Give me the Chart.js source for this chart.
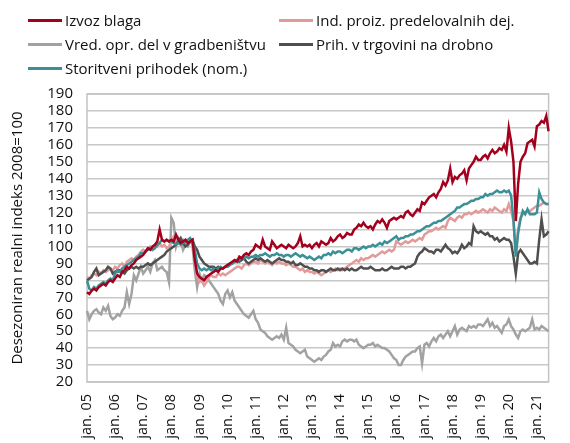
<!DOCTYPE html>
<html>
<head>
<meta charset="utf-8">
<script src="https://cdn.jsdelivr.net/npm/chart.js@4"></script>
<style>
  body { margin: 0; background: #fff; }
  #wrap { position: relative; width: 570px; height: 443px; }
  #legend {
    position: absolute; left: 28px; top: 8px;
    display: grid; grid-template-columns: 251px auto; grid-auto-rows: 24px;
    font-family: "Open Sans", sans-serif; font-size: 15px; color: #111;
  }
  .item { display: flex; align-items: center; }
  .swatch { width: 34px; height: 3px; margin-right: 3px; }
</style>
</head>
<body>
<div id="wrap">
  <canvas id="myChart" width="570" height="443"></canvas>
  <div id="legend"></div>
</div>
<script>
// x axis: monthly, jan 2005 - jun 2021
const startYear = 2005
const monthNames = ['jan.', 'feb.', 'mar.', 'apr.', 'maj', 'jun.', 'jul.', 'avg.', 'sep.', 'okt.', 'nov.', 'dec.']

// Izvoz blaga
const izvozBlaga = [
  73, 72, 74, 75, 74, 76, 77, 78, 77, 79, 80, 79,
  81, 83, 82, 85, 86, 88, 87, 89, 90, 92, 93, 94,
  95, 97, 99, 98, 100, 101, 103, 110, 104, 103, 104, 103,
  104, 103, 107, 104, 102, 103, 104, 102, 103, 104, 92, 84,
  82, 81, 80, 82, 83, 84, 85, 86, 85, 87, 87, 88,
  89, 90, 91, 92, 91, 94, 93, 95, 96, 95, 97, 98,
  101, 100, 99, 104, 100, 99, 98, 103, 101, 99, 100, 101,
  100, 99, 101, 100, 99, 100, 102, 106, 100, 101, 100, 101,
  99, 101, 102, 100, 103, 102, 101, 102, 105, 103, 104, 106,
  107, 105, 106, 108, 107, 107, 110, 111, 113, 112, 114, 112,
  111, 112, 110, 113, 115, 114, 116, 114, 111, 115, 116, 117,
  116, 117, 118, 117, 120, 121, 119, 118, 120, 122, 121, 126,
  125, 127, 129, 130, 131, 129, 132, 134, 138, 136, 139, 146,
  138, 141, 140, 142, 143, 145, 139, 146, 148, 150, 153, 151,
  151, 153, 154, 152, 155, 157, 155, 156, 158, 157, 160, 156,
  170, 162, 150, 115, 137, 150, 153, 155, 161, 162, 163, 159,
  171, 172, 174, 173, 177, 168
]

// Ind. proiz. predelovalnih dej.
const indProizvodnja = [
  82, 81, 83, 84, 83, 85, 84, 86, 85, 86, 87, 86,
  88, 87, 89, 90, 88, 91, 92, 93, 92, 94, 95, 97,
  98, 97, 99, 100, 99, 101, 100, 102, 100, 101, 99, 100,
  103, 106, 105, 104, 103, 104, 102, 101, 103, 104, 92, 82,
  79, 80, 77, 79, 82, 83, 82, 82, 84, 83, 84, 83,
  84, 85, 86, 87, 88, 88, 87, 89, 90, 89, 90, 91,
  91, 90, 92, 91, 90, 91, 90, 89, 91, 90, 91, 90,
  90, 89, 90, 89, 88, 88, 87, 86, 87, 85, 86, 85,
  85, 84, 85, 84, 83, 84, 85, 86, 85, 86, 87, 86,
  87, 86, 87, 88, 89, 90, 91, 92, 91, 93, 92, 93,
  93, 94, 95, 94, 95, 96, 97, 96, 97, 98, 97, 98,
  103, 102, 101, 102, 103, 102, 103, 104, 103, 104, 105, 104,
  107, 108, 109, 109, 110, 111, 110, 111, 112, 111, 115, 117,
  116, 115, 117, 118, 117, 119, 119, 120, 119, 120, 121, 120,
  121, 122, 121, 120, 122, 121, 123, 122, 121, 120, 122, 121,
  125, 121, 115, 96, 110, 117, 119, 120, 121, 121, 122, 123,
  124, 124, 125, 126, 125, 125
]

// Vred. opr. del v gradbenistvu
const gradbenistvo = [
  62, 57, 60, 62, 63, 61, 60, 64, 62, 65, 59, 57,
  58, 60, 59, 62, 64, 73, 66, 72, 83, 80, 84, 88,
  84, 86, 88, 85, 90, 92, 86, 87, 88, 86, 85, 79,
  117, 114, 100, 105, 103, 98, 101, 100, 104, 101, 86, 76,
  84, 80, 83, 82, 80, 78, 76, 74, 72, 68, 66, 72,
  74, 70, 73, 68, 66, 64, 62, 60, 59, 58, 60, 62,
  57, 55, 51, 50, 49, 47, 46, 45, 46, 47, 46, 48,
  45, 52, 43, 42, 41, 39, 38, 37, 38, 39, 35, 34,
  33, 32, 33, 34, 33, 35, 36, 38, 39, 43, 41, 42,
  41, 44, 45, 44, 45, 45, 44, 45, 42, 41, 40, 41,
  42, 42, 43, 41, 42, 41, 40, 40, 39, 38, 36, 34,
  33, 30, 30, 33, 35, 36, 37, 38, 38, 40, 41, 31,
  42, 43, 41, 44, 46, 44, 47, 48, 46, 48, 50, 47,
  50, 53, 48, 51, 52, 51, 50, 53, 52, 53, 52, 54,
  54, 53, 55, 57, 53, 55, 52, 53, 51, 49, 53, 54,
  57, 53, 51, 48, 46, 50, 51, 50, 51, 52, 57, 51,
  52, 51, 53, 52, 51, 50
]

// Prih. v trgovini na drobno
const trgovina = [
  80, 81, 82, 85, 87, 83, 84, 85, 86, 88, 87, 84,
  85, 86, 86, 85, 84, 86, 87, 88, 87, 88, 87, 88,
  88, 89, 90, 89, 90, 91, 92, 93, 94, 95, 97, 98,
  99, 100, 101, 103, 105, 102, 100, 101, 103, 104, 100, 98,
  94, 92, 90, 89, 88, 88, 88, 87, 88, 87, 87, 88,
  89, 90, 90, 91, 92, 91, 92, 93, 91, 90, 91, 92,
  93, 92, 93, 92, 91, 92, 91, 90, 91, 92, 93, 92,
  92, 91, 91, 90, 91, 89, 89, 90, 89, 88, 88, 87,
  87, 86, 86, 85, 86, 86, 85, 86, 87, 86, 86, 87,
  86, 87, 86, 87, 86, 87, 86, 86, 87, 88, 87, 87,
  87, 88, 87, 86, 86, 86, 87, 86, 86, 87, 88, 87,
  87, 87, 88, 88, 87, 88, 88, 89, 90, 94, 96, 97,
  99, 98, 97, 97, 96, 98, 98, 97, 99, 101, 99, 98,
  96, 97, 96, 98, 101, 99, 100, 102, 101, 112, 109, 108,
  109, 108, 107, 108, 106, 106, 104, 105, 103, 104, 105, 104,
  104, 102, 94, 84, 96, 98, 96, 94, 92, 90, 90, 91,
  90, 104, 116, 106, 107, 109
]

// Storitveni prihodek (nom.)
const storitve = [
  80, 75, 74, 76, 75, 77, 78, 79, 78, 80, 81, 80,
  84, 86, 85, 87, 88, 89, 90, 91, 92, 93, 94, 96,
  96, 97, 98, 99, 98, 99, 101, 102, 104, 103, 104, 103,
  103, 102, 101, 102, 101, 102, 103, 104, 105, 103, 98, 90,
  87, 86, 87, 86, 87, 86, 87, 86, 87, 88, 87, 88,
  88, 89, 90, 91, 92, 92, 93, 93, 94, 93, 94, 94,
  95, 94, 95, 95, 96, 95, 94, 95, 95, 96, 95, 95,
  94, 95, 95, 94, 95, 96, 95, 94, 95, 94, 93, 94,
  93, 92, 93, 94, 93, 95, 95, 96, 95, 97, 96, 97,
  97, 96, 97, 98, 98, 97, 99, 99, 98, 99, 100, 99,
  100, 100, 101, 100, 101, 102, 101, 103, 102, 103, 104, 105,
  106, 104, 105, 105, 106, 106, 107, 107, 108, 109, 109, 110,
  111, 112, 112, 113, 114, 114, 115, 115, 116, 117, 118, 119,
  120, 121, 123, 123, 124, 125, 125, 126, 127, 127, 128, 128,
  129, 129, 131, 130, 131, 131, 132, 133, 132, 132, 133, 132,
  133, 130, 116, 94, 108, 116, 121, 119, 122, 119, 119, 119,
  120, 132, 128, 126, 125, 125
]

const labels = izvozBlaga.map((v, i) => {
  const yy = String((startYear + Math.floor(i / 12)) % 100).padStart(2, '0')
  return monthNames[i % 12] + ' ' + yy
})

const FONT = '"Open Sans", sans-serif'

// frame round the plot area
const frame = {
  id: 'frame',
  beforeDatasetsDraw(chart) {
    const {ctx, chartArea: a} = chart
    ctx.save()
    ctx.strokeStyle = '#c4c4c4'
    ctx.lineWidth = 1.5
    ctx.strokeRect(a.left, a.top, a.right - a.left, a.bottom - a.top)
    ctx.restore()
  }
}

const datasets = [
  {label: 'Izvoz blaga', data: izvozBlaga, borderColor: '#a3001e', order: 1},
  {label: 'Ind. proiz. predelovalnih dej.', data: indProizvodnja, borderColor: '#e29a9a', order: 4},
  {label: 'Vred. opr. del v gradbeništvu', data: gradbenistvo, borderColor: '#a2a2a2', order: 5},
  {label: 'Prih. v trgovini na drobno', data: trgovina, borderColor: '#4f4f4f', order: 3},
  {label: 'Storitveni prihodek (nom.)', data: storitve, borderColor: '#3a9096', order: 2},
].map(d => Object.assign(d, {borderWidth: 2.5, pointRadius: 0, tension: 0, fill: false}))

const ctx = document.getElementById('myChart')
new Chart(ctx, {
  type: 'line',
  data: {labels: labels, datasets: datasets},
  options: {
    responsive: false,
    animation: false,
    layout: {padding: {top: 94, right: 7, left: 0, bottom: 0}},
    plugins: {legend: {display: false}, tooltip: {enabled: false}},
    scales: {
      x: {
        grid: {display: false},
        border: {display: false},
        afterFit: s => { s.height = 61 },
        ticks: {
          autoSkip: false, minRotation: 90, maxRotation: 90, padding: 4,
          color: '#111', font: {family: FONT, size: 14.5},
          callback: (v, i) => i % 12 === 0 ? labels[i] : ''
        }
      },
      y: {
        min: 20, max: 190,
        afterFit: s => { s.width = 87 },
        grid: {color: '#c8c8c8', lineWidth: 1.5, drawTicks: false},
        border: {display: false},
        ticks: {stepSize: 10, autoSkip: false, padding: 14, color: '#111', font: {family: FONT, size: 15}},
        title: {display: true, text: 'Desezoniran realni indeks 2008=100', color: '#111',
                font: {family: FONT, size: 15}, padding: {top: 9, bottom: 0}}
      }
    }
  },
  plugins: [frame]
})

// legend in two columns
const legend = document.getElementById('legend')
datasets.forEach(d => {
  const item = document.createElement('div')
  item.className = 'item'
  item.innerHTML = `<span class="swatch" style="background:${d.borderColor}"></span><span>${d.label}</span>`
  legend.appendChild(item)
})
</script>
</body>
</html>
